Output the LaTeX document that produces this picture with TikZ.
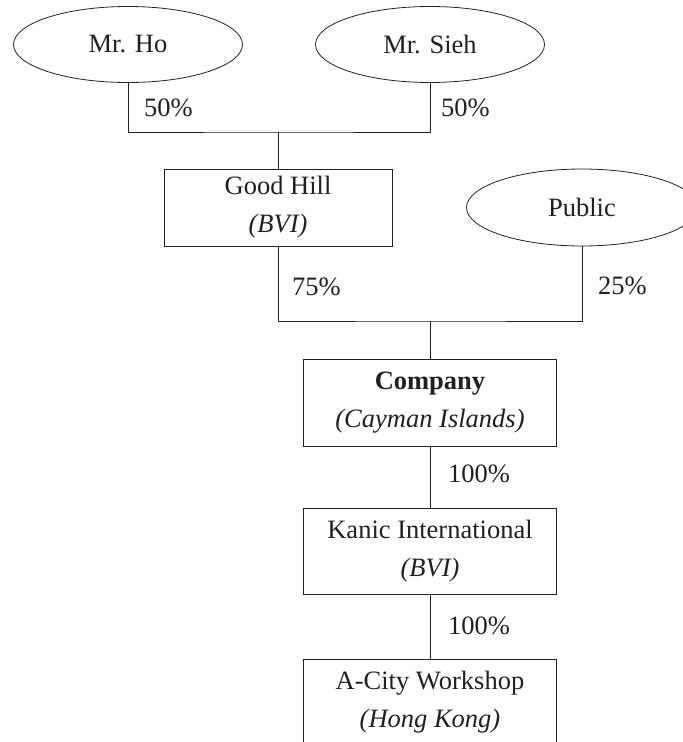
\documentclass[tikz,border=0pt]{standalone}
\usepackage{fontspec}
\setmainfont{Liberation Serif}
\usepackage{tikz}
\usetikzlibrary{shapes.geometric}
\definecolor{ink}{HTML}{231F20}

\begin{document}
\begin{tikzpicture}[
    x=1pt, y=-1pt,
    every node/.style={font=\fontsize{26.5}{38}\selectfont, text=ink},
    owner/.style={ellipse,draw=ink,line width=0.8pt,minimum width=229pt,minimum height=76pt,inner sep=0pt},
    entity/.style={rectangle,draw=ink,line width=0.8pt,align=center,inner sep=0pt},
    share/.style={anchor=west,inner sep=0pt},
    link/.style={draw=ink,line width=0.8pt}
]
\useasboundingbox (0,0) rectangle (683,742);

% Shareholders
\node[owner] (ho) at (128,44.5) {Mr. Ho};
\node[owner] (sieh) at (430,44.5) {Mr. Sieh};
\coordinate (j1) at (278,132);
\draw[link] (ho.south) |- (j1) -| (sieh.south);
\node[share] (pho) at (144,108) {50\%};
\node[share] (psieh) at (441,108) {50\%};

% Good Hill and public
\node[entity,minimum width=228pt,minimum height=77pt] (gh) at (278,207.5) {Good Hill\\\textit{(BVI)}};
\node[owner,minimum width=231pt,minimum height=77pt] (pub) at (582,207.5) {Public};
\draw[link] (j1) -- (gh.north);
\coordinate (j2) at (430,321);
\draw[link] (gh.south) |- (j2) -| (pub.south);
\node[share] (pgh) at (292,287) {75\%};
\node[share] (ppub) at (598,286) {25\%};

% Company chain
\node[entity,minimum width=253pt,minimum height=87pt] (co) at (430,402.5) {\textbf{Company}\\\textit{(Cayman Islands)}};
\draw[link] (j2) -- (co.north);
\node[entity,minimum width=253pt,minimum height=86pt] (kanic) at (430,551) {Kanic International\\\textit{(BVI)}};
\draw[link] (co.south) -- (kanic.north);
\node[share] (pco) at (448,474) {100\%};
\node[entity,minimum width=253pt,minimum height=86pt] (acity) at (430,702) {A-City Workshop\\\textit{(Hong Kong)}};
\draw[link] (kanic.south) -- (acity.north);
\node[share] (pkanic) at (448,626) {100\%};

\end{tikzpicture}
\end{document}
